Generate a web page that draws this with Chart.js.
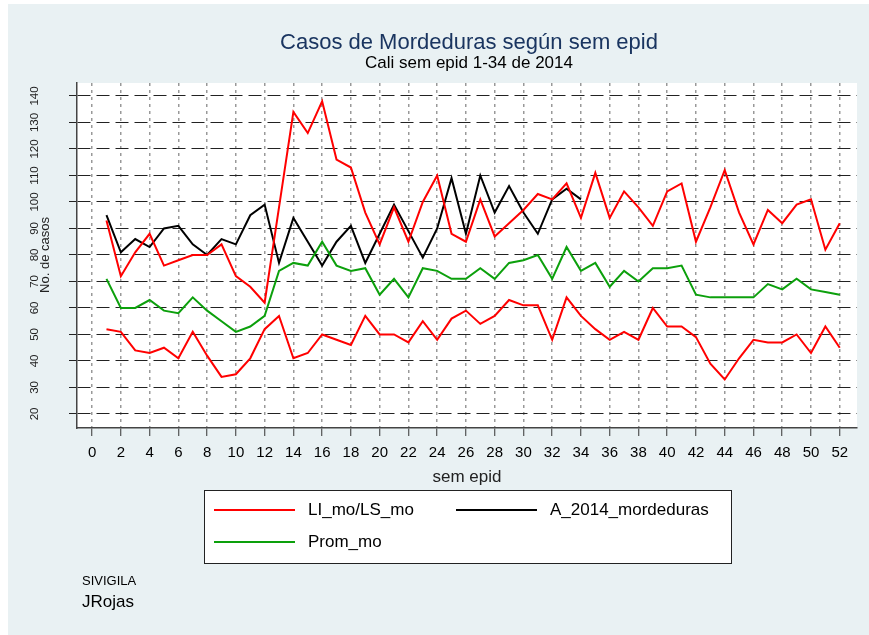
<!DOCTYPE html>
<html>
<head>
<meta charset="utf-8">
<script src="https://cdn.jsdelivr.net/npm/chart.js@4"></script>
<style>
  body { margin: 0; background: #fff; }
  #wrap { width: 869px; height: 635px; }
</style>
</head>
<body>
<div id="wrap"><canvas id="chart" width="869" height="635"></canvas></div>
<script>
// semanas epidemiologicas
const weeks = [];
for (let w = 1; w <= 52; w++) weeks.push(w);

// limite superior (LS_mo)
const lsMo = [93, 72, 81, 88, 76, 78, 80, 80, 84, 72, 68, 62, 98, 134, 126, 138, 116, 113, 96, 84,
  98, 85, 100, 110, 88, 85, 101, 87, 92, 97, 103, 101, 107, 94, 111, 94, 104, 98, 91, 104,
  107, 85, 98, 112, 96, 84, 97, 92, 99, 101, 82, 92];

// limite inferior (LI_mo)
const liMo = [52, 51, 44, 43, 45, 41, 51, 42, 34, 35, 41, 52, 57, 41, 43, 50, 48, 46, 57, 50,
  50, 47, 55, 48, 56, 59, 54, 57, 63, 61, 61, 48, 64, 57, 52, 48, 51, 48, 60, 53,
  53, 49, 39, 33, 41, 48, 47, 47, 50, 43, 53, 45];

// promedio (Prom_mo)
const promMo = [71, 60, 60, 63, 59, 58, 64, 59, 55, 51, 53, 57, 74, 77, 76, 85, 76, 74, 75, 65,
  71, 64, 75, 74, 71, 71, 75, 71, 77, 78, 80, 71, 83, 74, 77, 68, 74, 70, 75, 75,
  76, 65, 64, 64, 64, 64, 69, 67, 71, 67, 66, 65];

// casos 2014, semanas 1-34
const a2014 = [95, 81, 86, 83, 90, 91, 84, 80, 86, 84, 95, 99, 77, 94, 85, 76, 85, 91, 77, 88,
  99, 89, 79, 90, 109, 88, 110, 96, 106, 96, 88, 101, 105, 101];

const xTicks = [0, 2, 4, 6, 8, 10, 12, 14, 16, 18, 20, 22, 24, 26, 28, 30, 32, 34, 36, 38, 40, 42, 44, 46, 48, 50, 52];
const yTicks = [20, 30, 40, 50, 60, 70, 80, 90, 100, 110, 120, 130, 140];

const legendLabels = ['LI_mo/LS_mo', 'A_2014_mordeduras', 'Prom_mo'];

const FONT = "'Liberation Sans', Arial, sans-serif";
const RED = '#ff0000', GREEN = '#0ca00c', BLACK = '#000000';

const toPoints = vals => vals.map((v, i) => ({ x: weeks[i], y: v }));

const line = (label, vals, color) => ({
  label, data: toPoints(vals), borderColor: color, backgroundColor: color,
  borderWidth: 2, pointRadius: 0, tension: 0, fill: false
});

// fondo, titulos, etiquetas del eje y, leyenda y notas
const decor = {
  id: 'decor',
  beforeDraw(chart) {
    const { ctx, chartArea: a } = chart;
    ctx.save();
    ctx.fillStyle = '#fff';
    ctx.fillRect(0, 0, chart.width, chart.height);
    ctx.fillStyle = '#e9f1f3';
    ctx.fillRect(8, 4, chart.width - 8, chart.height - 4);
    ctx.fillStyle = '#fff';
    ctx.fillRect(a.left, a.top, a.right - a.left, a.bottom - a.top);
    ctx.restore();
  },
  afterDraw(chart) {
    const { ctx, chartArea: a } = chart;
    const y = chart.scales.y;
    const cx = (a.left + a.right) / 2;
    ctx.save();
    ctx.textAlign = 'center';
    ctx.textBaseline = 'alphabetic';
    ctx.fillStyle = '#1a3560';
    ctx.font = '22px ' + FONT;
    ctx.fillText('Casos de Mordeduras según sem epid', cx + 2, 49);
    ctx.fillStyle = '#000';
    ctx.font = '17px ' + FONT;
    ctx.fillText('Cali sem epid 1-34 de 2014', cx + 2, 68);

    // etiquetas del eje y (giradas)
    ctx.font = '11.5px ' + FONT;
    ctx.fillStyle = '#222';
    yTicks.forEach(v => {
      ctx.save();
      ctx.translate(35, y.getPixelForValue(v));
      ctx.rotate(-Math.PI / 2);
      ctx.textBaseline = 'middle';
      ctx.fillText(String(v), 0, 0);
      ctx.restore();
    });
    ctx.save();
    ctx.translate(45, 255);
    ctx.rotate(-Math.PI / 2);
    ctx.textBaseline = 'middle';
    ctx.font = '13px ' + FONT;
    ctx.fillText('No. de casos', 0, 0);
    ctx.restore();

    ctx.font = '17px ' + FONT;
    ctx.fillText('sem epid', cx, 482);

    // leyenda
    ctx.fillStyle = '#fff';
    ctx.fillRect(204, 490, 527, 73);
    ctx.strokeStyle = '#222';
    ctx.lineWidth = 1;
    ctx.strokeRect(204.5, 490.5, 527, 73);
    const items = [
      { text: legendLabels[0], color: RED, x: 214, y: 510 },
      { text: legendLabels[1], color: BLACK, x: 456, y: 510 },
      { text: legendLabels[2], color: GREEN, x: 214, y: 542 }
    ];
    ctx.textAlign = 'left';
    ctx.textBaseline = 'middle';
    items.forEach(it => {
      ctx.strokeStyle = it.color;
      ctx.lineWidth = 2;
      ctx.beginPath();
      ctx.moveTo(it.x, it.y);
      ctx.lineTo(it.x + 81, it.y);
      ctx.stroke();
      ctx.fillStyle = '#000';
      ctx.fillText(it.text, it.x + 94, it.y);
    });

    ctx.textBaseline = 'alphabetic';
    ctx.font = '13px ' + FONT;
    ctx.fillText('SIVIGILA', 82, 585);
    ctx.font = '17px ' + FONT;
    ctx.fillText('JRojas', 82, 607);
    ctx.restore();
  }
};

new Chart(document.getElementById('chart'), {
  type: 'line',
  data: {
    datasets: [
      line('LI_mo', liMo, RED),
      line('LS_mo', lsMo, RED),
      line('Prom_mo', promMo, GREEN),
      line('A_2014_mordeduras', a2014, BLACK)
    ]
  },
  options: {
    responsive: false,
    animation: false,
    layout: { padding: { left: 0, top: 83, right: 12, bottom: 167 } },
    plugins: { legend: { display: false }, title: { display: false }, tooltip: { enabled: false } },
    scales: {
      x: {
        type: 'linear',
        min: -1.05,
        max: 53.2,
        afterBuildTicks: s => { s.ticks = xTicks.map(v => ({ value: v })); },
        afterFit: s => { s.height = 40; },
        ticks: { color: '#000', font: { size: 15, family: FONT }, padding: 8, maxRotation: 0, autoSkip: false },
        grid: { color: '#999', lineWidth: 1.5, tickLength: 8, tickColor: '#333', tickWidth: 1 },
        border: { display: true, color: '#444', width: 1.5, dash: [3, 4] }
      },
      y: {
        min: 14.7,
        max: 144.9,
        afterBuildTicks: s => { s.ticks = yTicks.map(v => ({ value: v })); },
        afterFit: s => { s.width = 77; },
        ticks: { display: false },
        grid: { color: '#222', lineWidth: 1, tickLength: 8, tickColor: '#222', tickWidth: 1 },
        border: { display: true, color: '#444', width: 1.5, dash: [13, 6] }
      }
    }
  },
  plugins: [decor]
});
</script>
</body>
</html>
